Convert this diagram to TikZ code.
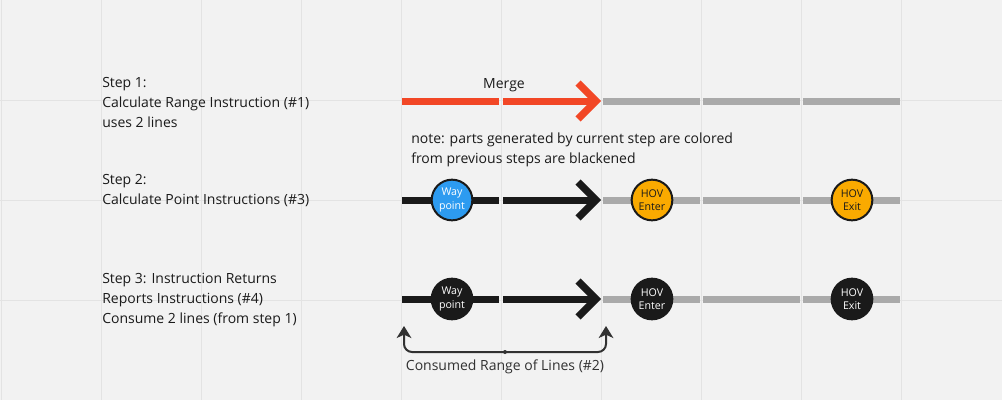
\documentclass[tikz,border=0pt]{standalone}
\usepackage{fontspec}
\setmainfont{Open Sans}
\usetikzlibrary{arrows.meta,positioning}
\definecolor{bgcol}{HTML}{F2F2F2}
\definecolor{gridcol}{HTML}{E3E3E3}
\definecolor{mergered}{HTML}{F24726}
\definecolor{lineblack}{HTML}{1A1A1A}
\definecolor{linegray}{HTML}{AAAAAA}
\definecolor{wpblue}{HTML}{2D9BF0}
\definecolor{hovorange}{HTML}{FAAA00}
\definecolor{textcol}{HTML}{1A1A1A}

\begin{document}
\begin{tikzpicture}[x=0.75pt,y=-0.75pt,
	lane/.style={line width=5.25pt},
	chev/.style={line width=5.5pt,miter limit=4},
	poi/.style={circle,draw=lineblack,line width=1.5pt,minimum size=30.5pt,inner sep=0pt,
		align=center,font=\fontsize{8}{10}\selectfont},
	steptext/.style={anchor=west,align=left,text=textcol,inner sep=0pt,
		font=\fontsize{10.5}{15}\selectfont},
	brk/.style={draw=textcol!90,line width=1.5pt,rounded corners=6pt}
	]
	\fill[bgcol] (0,0) rectangle (1002,400);
	\useasboundingbox (0,0) rectangle (1002,400);
	\foreach \x in {1,101,...,901} \draw[gridcol,line width=0.75pt] (\x,0) -- (\x,400);
	\foreach \y in {100,200,300} \draw[gridcol,line width=0.75pt] (0,\y) -- (1002,\y);
	% lane end points
	\foreach \r/\y in {1/101,2/200,3/299}
		\foreach \x in {402,499,503,597,600,603,700,703,800,803,900}
			\coordinate (r\r-\x) at (\x,\y);
	% gray parts
	\foreach \r in {1,2,3}
		\foreach \a/\b in {603/700,703/800,803/900}
			\draw[lane,linegray] (r\r-\a) -- (r\r-\b);
	% coloured parts with chevron
	\foreach \r/\c in {1/mergered,2/lineblack,3/lineblack}{
		\draw[lane,\c] (r\r-402) -- (r\r-499);
		\draw[lane,\c] (r\r-503) -- (r\r-597);
		\draw[chev,\c] ([shift={(-22,-18)}]r\r-600) -- ([shift={(-4,0)}]r\r-600) -- ([shift={(-22,18)}]r\r-600);
	}
	% points
	\node[poi,fill=wpblue,text=white] (wp2) at (452,200) {Way\\point};
	\node[poi,fill=hovorange,text=textcol] (hen2) at (652,200) {HOV\\Enter};
	\node[poi,fill=hovorange,text=textcol] (hex2) at (852,200) {HOV\\Exit};
	\node[poi,fill=lineblack,text=white] (wp3) at (452,299) {Way\\point};
	\node[poi,fill=lineblack,text=white] (hen3) at (652,299) {HOV\\Enter};
	\node[poi,fill=lineblack,text=white] (hex3) at (852,299) {HOV\\Exit};
	% texts
	\node[steptext] (step1) at (102,102) {Step 1:\\Calculate Range Instruction (\#1)\\uses 2 lines};
	\node[steptext] (step2) at (102,191) {Step 2:\\Calculate Point Instructions (\#3)};
	\node[steptext] (step3) at (102,300) {Step 3: Instruction Returns\\Reports Instructions (\#4)\\Consume 2 lines (from step 1)};
	\node[steptext,anchor=center] (merge) at (504,85) {Merge};
	\node[steptext] (note) at (411,150) {note: parts generated by current step are colored\\from previous steps are blackened};
	% consumed range
	\coordinate (cl) at (404,326);
	\coordinate (cr) at (606,326);
	\coordinate (cm) at (505,352);
	\draw[brk,{Stealth[length=9pt,width=11pt,inset=2.5pt]}-{Stealth[length=9pt,width=11pt,inset=2.5pt]}] (cl) |- (cm) -| (cr);
	\fill[textcol!90] (cm) circle (2);
	\node[steptext,anchor=center,text=textcol!90] (range) at (505,367) {Consumed Range of Lines (\#2)};
\end{tikzpicture}
\end{document}
